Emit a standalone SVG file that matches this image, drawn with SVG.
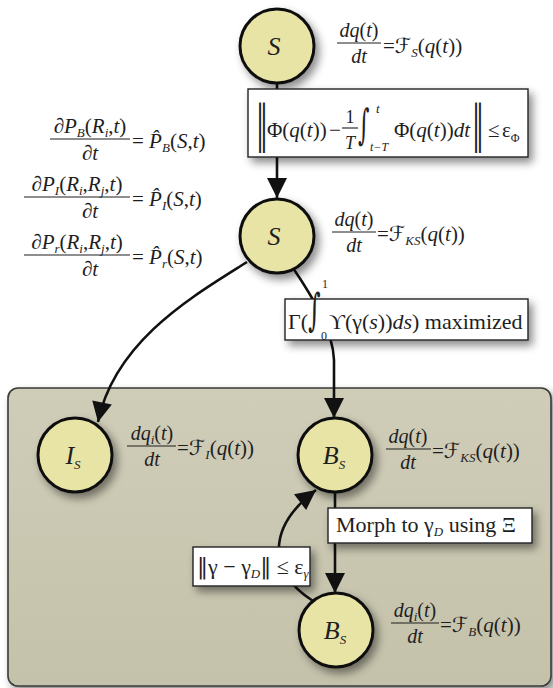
<svg xmlns="http://www.w3.org/2000/svg" width="553" height="688" viewBox="0 0 553 688">
<defs>
<style>
text{font-family:"Liberation Serif","DejaVu Serif",serif;fill:#1e1e1e}
.eq{font-size:20px}
.eql{font-size:21px}
.i{font-style:italic}
.sub{font-size:13px;font-style:italic}
.scr{font-family:"DejaVu Serif","DejaVu Sans",serif;font-style:italic}
.dj{font-family:"DejaVu Serif",serif}
.bar{stroke:#1e1e1e;stroke-width:1.1}
.node circle{fill:#e8e4a6;stroke:#111;stroke-width:3;filter:url(#sh)}
.box{fill:#fff;stroke:#222;stroke-width:1.4;filter:url(#sh)}
.edge{fill:none;stroke:#111;stroke-width:2.6}
.lbl{font-size:26px;font-style:italic}
</style>
<filter id="sh" x="-30%" y="-30%" width="170%" height="170%">
<feDropShadow dx="4" dy="5" stdDeviation="4" flood-color="#000" flood-opacity="0.45"/>
</filter>
<linearGradient id="pg" x1="0" y1="0" x2="0" y2="1">
<stop offset="0" stop-color="#cfccb8"/>
<stop offset="1" stop-color="#c5c2ab"/>
</linearGradient>
<marker id="ah" viewBox="0 0 10 10" refX="10" refY="5" markerWidth="22" markerHeight="20" markerUnits="userSpaceOnUse" orient="auto">
<path d="M0,0 L10,5 L0,10 z" fill="#111"/>
</marker>
</defs>
<rect x="0" y="0" width="553" height="688" fill="#fff"/>
<g id="panel">
<rect x="8" y="388" width="543" height="298" rx="10" fill="url(#pg)" stroke="#3a3a3a" stroke-width="1.6" filter="url(#sh)"/>
</g>
<g id="connectors">
<path class="edge" d="M277,84 L277,198" marker-end="url(#ah)"/>
<path class="edge" d="M247,262 C195,295 115,340 98,422" marker-end="url(#ah)"/>
<path class="edge" d="M293,268 C312,296 333,330 334,360 L334,418" marker-end="url(#ah)"/>
<path class="edge" d="M335,492 L335,593" marker-end="url(#ah)"/>
<path class="edge" d="M313,601 C268,572 266,528 316,490" marker-end="url(#ah)"/>
</g>
<g id="n-s1" class="node"><circle cx="277" cy="46" r="37"/><text class="lbl" x="274" y="55" text-anchor="middle">S</text></g>
<g id="n-s2" class="node"><circle cx="277" cy="236" r="37"/><text class="lbl" x="274" y="245" text-anchor="middle">S</text></g>
<g id="n-is" class="node"><circle cx="75" cy="455" r="37"/><text class="lbl" x="73" y="464" text-anchor="middle">I<tspan class="sub" font-size="15" dy="5">S</tspan></text></g>
<g id="n-bs1" class="node"><circle cx="335" cy="455" r="37"/><text class="lbl" x="334" y="464" text-anchor="middle">B<tspan class="sub" font-size="15" dy="5">S</tspan></text></g>
<g id="n-bs2" class="node"><circle cx="336" cy="630" r="37"/><text class="lbl" x="335" y="639" text-anchor="middle">B<tspan class="sub" font-size="15" dy="5">S</tspan></text></g>

<g id="eq-s1" class="eq">
<text x="359" y="37" text-anchor="middle"><tspan class="i">dq</tspan>(<tspan class="i">t</tspan>)</text>
<line class="bar" x1="337" y1="43" x2="381" y2="43"/>
<text class="i" x="359" y="63" text-anchor="middle">dt</text>
<text x="383" y="53" font-size="21">=<tspan class="scr">ℱ</tspan><tspan class="sub" dy="4">S</tspan><tspan dy="-4">(</tspan><tspan class="i">q</tspan>(<tspan class="i">t</tspan>))</text>
</g>
<g id="eq-s2" class="eq">
<text x="354" y="226" text-anchor="middle"><tspan class="i">dq</tspan>(<tspan class="i">t</tspan>)</text>
<line class="bar" x1="332" y1="232" x2="376" y2="232"/>
<text class="i" x="354" y="252" text-anchor="middle">dt</text>
<text x="377" y="241" font-size="21">=<tspan class="scr">ℱ</tspan><tspan class="sub" font-size="11" dy="4">KS</tspan><tspan dy="-4">(</tspan><tspan class="i">q</tspan>(<tspan class="i">t</tspan>))</text>
</g>
<g id="eq-is" class="eq">
<text x="152" y="440" text-anchor="middle"><tspan class="i">dq</tspan><tspan class="sub" dy="4">i</tspan><tspan dy="-4">(</tspan><tspan class="i">t</tspan>)</text>
<line class="bar" x1="127" y1="446" x2="176" y2="446"/>
<text class="i" x="152" y="466" text-anchor="middle">dt</text>
<text x="177" y="455" font-size="21">=<tspan class="scr">ℱ</tspan><tspan class="sub" dy="4">I</tspan><tspan dy="-4">(</tspan><tspan class="i">q</tspan>(<tspan class="i">t</tspan>))</text>
</g>
<g id="eq-bs1" class="eq">
<text x="408" y="443" text-anchor="middle"><tspan class="i">dq</tspan>(<tspan class="i">t</tspan>)</text>
<line class="bar" x1="386" y1="449" x2="431" y2="449"/>
<text class="i" x="408" y="469" text-anchor="middle">dt</text>
<text x="432" y="458" font-size="21">=<tspan class="scr">ℱ</tspan><tspan class="sub" font-size="11" dy="4">KS</tspan><tspan dy="-4">(</tspan><tspan class="i">q</tspan>(<tspan class="i">t</tspan>))</text>
</g>
<g id="eq-bs2" class="eq">
<text x="415" y="617" text-anchor="middle"><tspan class="i">dq</tspan><tspan class="sub" dy="4">i</tspan><tspan dy="-4">(</tspan><tspan class="i">t</tspan>)</text>
<line class="bar" x1="391" y1="623" x2="439" y2="623"/>
<text class="i" x="415" y="643" text-anchor="middle">dt</text>
<text x="440" y="632" font-size="21">=<tspan class="scr">ℱ</tspan><tspan class="sub" dy="4">B</tspan><tspan dy="-4">(</tspan><tspan class="i">q</tspan>(<tspan class="i">t</tspan>))</text>
</g>

<g id="eq-left" class="eql">
<text x="90" y="133" text-anchor="middle">∂<tspan class="i">P</tspan><tspan class="sub" dy="4">B</tspan><tspan dy="-4">(</tspan><tspan class="i">R</tspan><tspan class="sub" dy="4">i</tspan><tspan dy="-4">,</tspan><tspan class="i">t</tspan>)</text>
<line class="bar" x1="50" y1="139" x2="130" y2="139"/>
<text x="90" y="160" text-anchor="middle">∂<tspan class="i">t</tspan></text>
<text x="132" y="148">= <tspan class="i">P̂</tspan><tspan class="sub" dy="4">B</tspan><tspan dy="-4">(</tspan><tspan class="i">S</tspan>,<tspan class="i">t</tspan>)</text>

<text x="77" y="191" text-anchor="middle">∂<tspan class="i">P</tspan><tspan class="sub" dy="4">I</tspan><tspan dy="-4">(</tspan><tspan class="i">R</tspan><tspan class="sub" dy="4">i</tspan><tspan dy="-4">,</tspan><tspan class="i">R</tspan><tspan class="sub" dy="4">j</tspan><tspan dy="-4">,</tspan><tspan class="i">t</tspan>)</text>
<line class="bar" x1="24" y1="197" x2="130" y2="197"/>
<text x="90" y="218" text-anchor="middle">∂<tspan class="i">t</tspan></text>
<text x="132" y="206">= <tspan class="i">P̂</tspan><tspan class="sub" dy="4">I</tspan><tspan dy="-4">(</tspan><tspan class="i">S</tspan>,<tspan class="i">t</tspan>)</text>

<text x="77" y="249" text-anchor="middle">∂<tspan class="i">P</tspan><tspan class="sub" dy="4">r</tspan><tspan dy="-4">(</tspan><tspan class="i">R</tspan><tspan class="sub" dy="4">i</tspan><tspan dy="-4">,</tspan><tspan class="i">R</tspan><tspan class="sub" dy="4">j</tspan><tspan dy="-4">,</tspan><tspan class="i">t</tspan>)</text>
<line class="bar" x1="24" y1="255" x2="130" y2="255"/>
<text x="90" y="276" text-anchor="middle">∂<tspan class="i">t</tspan></text>
<text x="132" y="264">= <tspan class="i">P̂</tspan><tspan class="sub" dy="4">r</tspan><tspan dy="-4">(</tspan><tspan class="i">S</tspan>,<tspan class="i">t</tspan>)</text>
</g>

<g id="box-phi">
<rect class="box" x="248" y="89" width="280" height="68"/>
<text class="dj" transform="translate(256,141) scale(1,2.1)" font-size="24">‖</text>
<text x="267" y="137" font-size="21">Φ(<tspan class="i">q</tspan>(<tspan class="i">t</tspan>))</text>
<text x="329" y="137" font-size="21">−</text>
<text x="350" y="123" font-size="18" text-anchor="middle">1</text>
<line class="bar" x1="342" y1="128" x2="358" y2="128"/>
<text class="i" x="350" y="149" font-size="18" text-anchor="middle">T</text>
<text class="dj" transform="translate(358,139) scale(1,1.9)" font-size="22">∫</text>
<text class="i" x="376" y="113" font-size="13">t</text>
<text class="i" x="370" y="151" font-size="12">t−T</text>
<text x="394" y="137" font-size="21">Φ(<tspan class="i">q</tspan>(<tspan class="i">t</tspan>))<tspan class="i">dt</tspan></text>
<text class="dj" transform="translate(472,141) scale(1,2.1)" font-size="24">‖</text>
<text x="488" y="137" font-size="21">≤</text>
<text x="502" y="137" font-size="21">ε<tspan font-size="12" dy="5">Φ</tspan></text>
</g>

<g id="box-gamma">
<rect class="box" x="285" y="299" width="243" height="41"/>
<text x="288" y="329" font-size="22">Γ(</text>
<text class="dj" transform="translate(308,325) scale(1,1.85)" font-size="24">∫</text>
<text x="322" y="288" font-size="12">1</text>
<text x="321" y="340" font-size="12">0</text>
<text x="329" y="329" font-size="22">ϒ(γ(<tspan class="i">s</tspan>))<tspan class="i">ds</tspan>) maximized</text>
</g>

<g id="box-morph">
<rect class="box" x="328" y="508" width="204" height="35"/>
<text x="336" y="532" font-size="22">Morph to γ<tspan class="sub" dy="4">D</tspan><tspan dy="-4">  using Ξ</tspan></text>
</g>

<g id="box-norm">
<rect class="box" x="193" y="547" width="117" height="39"/>
<text x="197" y="574" font-size="22"><tspan class="dj">‖</tspan>γ − γ<tspan class="sub" dy="4">D</tspan><tspan class="dj" dy="-4">‖</tspan> ≤ ε<tspan class="sub" font-size="12" dy="4">γ</tspan></text>
</g>
</svg>
